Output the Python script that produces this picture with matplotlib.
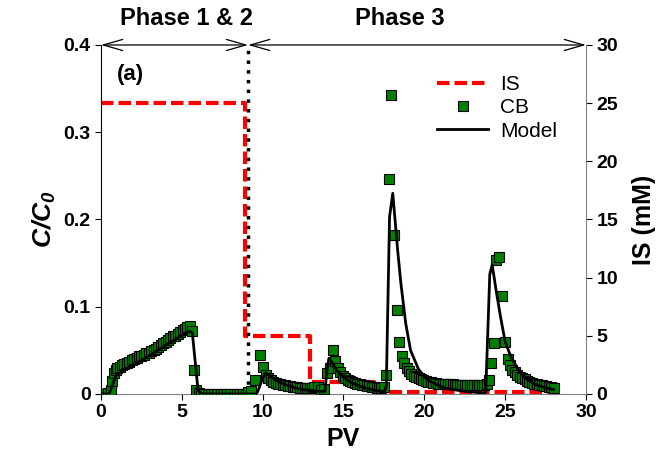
import matplotlib
matplotlib.use("Agg")
import matplotlib.pyplot as plt
from matplotlib.lines import Line2D

plt.rcParams['font.family'] = ['Liberation Sans', 'DejaVu Sans']
plt.rcParams['mathtext.fontset'] = 'custom'
plt.rcParams['mathtext.bf'] = 'Liberation Sans:italic:bold'

# CB measured C/C0 vs PV
cb_pv = [0, 0.15, 0.3, 0.45, 0.6, 0.7, 0.8, 0.9, 1.0, 1.15, 1.3, 1.45, 1.6, 1.75, 1.9,
         2.05, 2.2, 2.35, 2.5, 2.65, 2.8, 2.95, 3.1, 3.25, 3.4, 3.55, 3.7, 3.85, 4.0,
         4.15, 4.3, 4.45, 4.6, 4.75, 4.9, 5.05, 5.2, 5.35, 5.5, 5.6, 5.75, 5.9, 6.05,
         6.2, 6.4, 6.6, 6.8, 7.0, 7.2, 7.4, 7.6, 7.8, 8.0, 8.2, 8.4, 8.6, 8.8, 9.0,
         9.1, 9.3, 9.55, 9.85, 10.05, 10.2, 10.35, 10.5, 10.65, 10.8, 10.95, 11.1,
         11.25, 11.4, 11.55, 11.7, 11.85, 12.0, 12.15, 12.3, 12.45, 12.6, 12.75, 12.9,
         13.05, 13.2, 13.4, 13.6, 13.8, 14.0, 14.15, 14.35, 14.5, 14.65, 14.8, 14.95,
         15.1, 15.25, 15.4, 15.55, 15.7, 15.85, 16.0, 16.15, 16.3, 16.45, 16.6, 16.75,
         16.9, 17.05, 17.2, 17.35, 17.5, 17.65, 17.8, 17.95, 18.1, 18.3, 18.45, 18.6,
         18.75, 18.9, 19.05, 19.2, 19.35, 19.5, 19.65, 19.8, 19.95, 20.1, 20.25, 20.4,
         20.55, 20.7, 20.85, 21.0, 21.15, 21.3, 21.45, 21.6, 21.75, 21.9, 22.05, 22.2,
         22.35, 22.5, 22.65, 22.8, 22.95, 23.1, 23.25, 23.4, 23.55, 23.7, 23.85, 24.0,
         24.15, 24.3, 24.45, 24.6, 24.8, 25.0, 25.15, 25.3, 25.45, 25.6, 25.75, 25.9,
         26.05, 26.2, 26.35, 26.5, 26.65, 26.8, 26.95, 27.1, 27.25, 27.4, 27.55, 27.7,
         27.85, 28.0]
cb_c = [0, 0, 0, 0.001, 0.004, 0.015, 0.024, 0.028, 0.030, 0.031, 0.033, 0.034, 0.036,
        0.037, 0.039, 0.040, 0.041, 0.043, 0.044, 0.045, 0.047, 0.047, 0.049, 0.050,
        0.052, 0.054, 0.056, 0.058, 0.060, 0.062, 0.064, 0.066, 0.067, 0.069, 0.071,
        0.073, 0.075, 0.077, 0.078, 0.072, 0.027, 0.004, 0.001,
        0, 0, 0, 0, 0, 0, 0, 0, 0, 0, 0, 0, 0, 0, 0,
        0.002, 0.003, 0.016, 0.045, 0.031, 0.022, 0.018, 0.016, 0.014, 0.013, 0.012,
        0.011, 0.010, 0.010, 0.009, 0.009, 0.008, 0.008, 0.008, 0.007, 0.007, 0.007,
        0.007, 0.007, 0.007, 0.008, 0.008, 0.005, 0.006, 0.024, 0.030, 0.050, 0.038,
        0.030, 0.025, 0.021, 0.018, 0.016, 0.015, 0.014, 0.013, 0.012, 0.011, 0.010,
        0.010, 0.009, 0.009, 0.008, 0.008, 0.007, 0.007, 0.007, 0.008, 0.022, 0.246,
        0.343, 0.182, 0.096, 0.060, 0.043, 0.035, 0.030, 0.026, 0.023, 0.021, 0.019,
        0.018, 0.017, 0.016, 0.015, 0.014, 0.014, 0.013, 0.013, 0.012, 0.012, 0.012,
        0.011, 0.011, 0.011, 0.011, 0.010, 0.010, 0.010, 0.010, 0.010, 0.010, 0.010,
        0.010, 0.010, 0.010, 0.010, 0.010, 0.010, 0.012, 0.016, 0.036, 0.058, 0.153,
        0.157, 0.112, 0.060, 0.040, 0.033, 0.028, 0.025, 0.022, 0.020, 0.018, 0.017,
        0.015, 0.014, 0.013, 0.012, 0.011, 0.010, 0.010, 0.009, 0.009, 0.008, 0.008,
        0.007]

# model curve
model_pv = [0, 0.5, 0.7, 0.9, 1.2, 2.0, 3.0, 4.0, 5.0, 5.5, 5.65, 6.0, 6.2, 9.6,
            9.7, 10.0, 10.2, 10.5, 11.0, 11.5, 12.0, 12.5, 13.0, 13.5, 13.85,
            14.0, 14.1, 14.3, 14.6, 15.0, 15.5, 16.0, 16.5, 17.0, 17.55,
            17.65, 17.85, 18.05, 18.35, 18.55, 18.85, 19.15, 19.65, 20.2, 21.2, 22.5, 23.7,
            23.8, 24.05, 24.2, 24.45, 24.7, 25.0, 25.35, 25.8, 26.4, 27.0, 27.5, 28.0]
model_c = [0, 0, 0.010, 0.020, 0.025, 0.033, 0.044, 0.056, 0.067, 0.072, 0.070, 0.005, 0, 0,
           0.003, 0.018, 0.024, 0.020, 0.014, 0.010, 0.007, 0.005, 0.004, 0.003, 0.003,
           0.030, 0.041, 0.036, 0.027, 0.019, 0.013, 0.009, 0.006, 0.004, 0.003,
           0.010, 0.203, 0.230, 0.165, 0.127, 0.081, 0.050, 0.028, 0.016, 0.007, 0.003, 0.001,
           0.002, 0.137, 0.148, 0.118, 0.090, 0.060, 0.043, 0.028, 0.016, 0.010, 0.007, 0.005]

# ionic strength steps (mM)
is_pv = [0, 8.93, 8.93, 12.95, 12.95, 16.9, 16.9, 28.0]
is_mm = [25, 25, 5, 5, 1, 1, 0.15, 0.15]

phase_split = 9.1

fig = plt.figure(figsize=(6.67, 4.74), dpi=100)
ax = fig.add_axes([0.1514, 0.1688, 0.7271, 0.7363])
ax2 = ax.twinx()

ax2.plot(is_pv, is_mm, color='red', lw=3, dashes=(3, 1.2), zorder=2)
ax.plot(cb_pv, cb_c, 's', color='green', markersize=7.5, markeredgecolor='black',
        markeredgewidth=0.8, zorder=3)
ax.plot(model_pv, model_c, color='black', lw=2, zorder=4)
ax.set_zorder(ax2.get_zorder() + 1)
ax.patch.set_visible(False)

ax.axvline(phase_split, color='black', ls=(0, (1, 1.8)), lw=2.5)

ax.set_xlim(0, 30)
ax.set_ylim(0, 0.4)
ax2.set_ylim(0, 30)
ax.set_xticks([0, 5, 10, 15, 20, 25, 30])
ax.set_yticks([0, 0.1, 0.2, 0.3, 0.4])
ax.set_yticklabels(['0', '0.1', '0.2', '0.3', '0.4'])
ax2.set_yticks([0, 5, 10, 15, 20, 25, 30])

for a in (ax, ax2):
    a.spines['top'].set_visible(False)
    a.tick_params(labelsize=14, length=4, width=0.8)
    for lab in a.get_xticklabels() + a.get_yticklabels():
        lab.set_fontweight('bold')
ax.spines['bottom'].set_color('grey')
ax.spines['left'].set_color('black')
ax.spines['left'].set_linewidth(0.8)
ax2.spines['right'].set_color('grey')
ax2.spines['left'].set_visible(False)
ax.spines['right'].set_visible(False)
ax2.spines['bottom'].set_visible(False)

ax.set_xlabel('PV', fontsize=18, fontweight='bold')
ax.set_ylabel('C/C$_\\mathbf{0}$', fontsize=19,
              fontweight='bold', fontstyle='italic')
ax2.set_ylabel('IS (mM)', fontsize=18, fontweight='bold', labelpad=10)

# phase arrows along the top
arr = dict(arrowstyle='<->,head_length=0.7,head_width=0.2', color='black', lw=0.9,
           mutation_scale=20, shrinkA=0, shrinkB=0)
ax.annotate('', xy=(0, 0.4), xytext=(phase_split, 0.4), arrowprops=arr,
            annotation_clip=False)
ax.annotate('', xy=(phase_split, 0.4), xytext=(30, 0.4), arrowprops=arr,
            annotation_clip=False)
fig.text(0.279, 0.962, 'Phase 1 & 2', fontsize=17, fontweight='bold', ha='center', va='center')
fig.text(0.599, 0.962, 'Phase 3', fontsize=17, fontweight='bold', ha='center', va='center')

ax.text(1.8, 0.366, '(a)', fontsize=16, fontweight='bold', ha='center', va='center')

handles = [Line2D([], [], color='red', lw=3, dashes=(3, 1.2)),
           Line2D([], [], ls='none', marker='s', color='green', markersize=7.5,
                  markeredgecolor='black', markeredgewidth=0.8),
           Line2D([], [], color='black', lw=2)]
ax.legend(handles, ['IS', 'CB', 'Model'], loc='upper left', bbox_to_anchor=(0.676, 0.937),
          frameon=False, fontsize=15, handlelength=2.45, handletextpad=0.58,
          labelspacing=0.2, borderaxespad=0)

fig.savefig('out.png', dpi=100)
